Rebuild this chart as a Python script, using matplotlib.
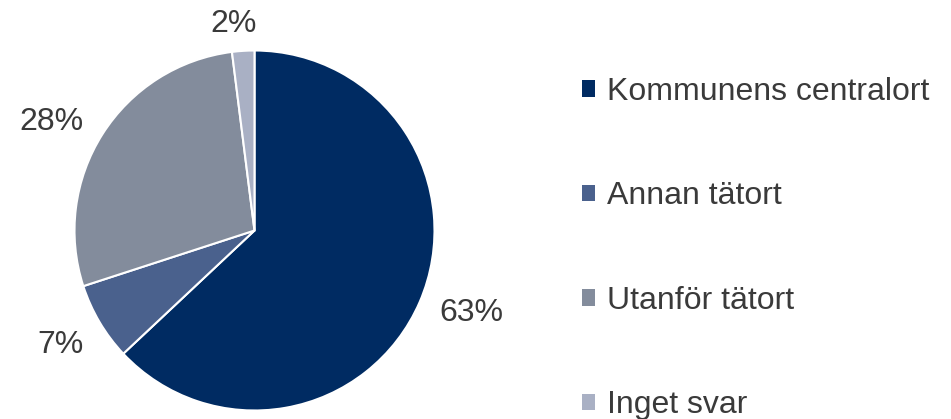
import matplotlib
matplotlib.use("Agg")
import matplotlib.pyplot as plt
from matplotlib.patches import Patch
import numpy as np

categories = ["Kommunens centralort", "Annan tätort", "Utanför tätort", "Inget svar"]
shares = [63, 7, 28, 2]
pct_labels = ["63%", "7%", "28%", "2%"]
colors = ["#002B62", "#4A618D", "#838C9C", "#A9B0C4"]
label_dist = [1.29, 1.25, 1.28, 1.155]
label_shift = [2.5, 0, 4.2, 2.2]   # degrees, nudges off the wedge middle

plt.rcParams['font.family'] = ['Liberation Sans', 'DejaVu Sans']
txt_col = '#3a3a3a'

fig = plt.figure(figsize=(9.51, 4.19), dpi=100)
# pie axes: 360 px square, centred at (254.5, 230.5) px
ax = fig.add_axes([(254.5 - 180) / 951, (419 - 410.5) / 419, 360 / 951, 360 / 419])
wedges, _ = ax.pie(shares, colors=colors, startangle=90, counterclock=False,
                   radius=1, wedgeprops=dict(edgecolor='white', linewidth=1.5))
ax.set_xlim(-1, 1)
ax.set_ylim(-1, 1)
ax.set_aspect('equal')

for w, lab, d, s in zip(wedges, pct_labels, label_dist, label_shift):
    ang = np.deg2rad((w.theta1 + w.theta2) / 2 + s)
    ax.text(d * np.cos(ang), d * np.sin(ang), lab, ha='center', va='center',
            fontsize=23, color=txt_col, clip_on=False)

handles = [Patch(facecolor=c, edgecolor='none') for c in colors]
fig.legend(handles, categories, loc='upper left',
           bbox_to_anchor=(566 / 951, 1 - 61 / 419), frameon=False,
           fontsize=23, handlelength=0.42, handleheight=0.42,
           handletextpad=0.35, labelspacing=2.33, borderpad=0,
           labelcolor=txt_col)

fig.savefig("out.png", dpi=100)
